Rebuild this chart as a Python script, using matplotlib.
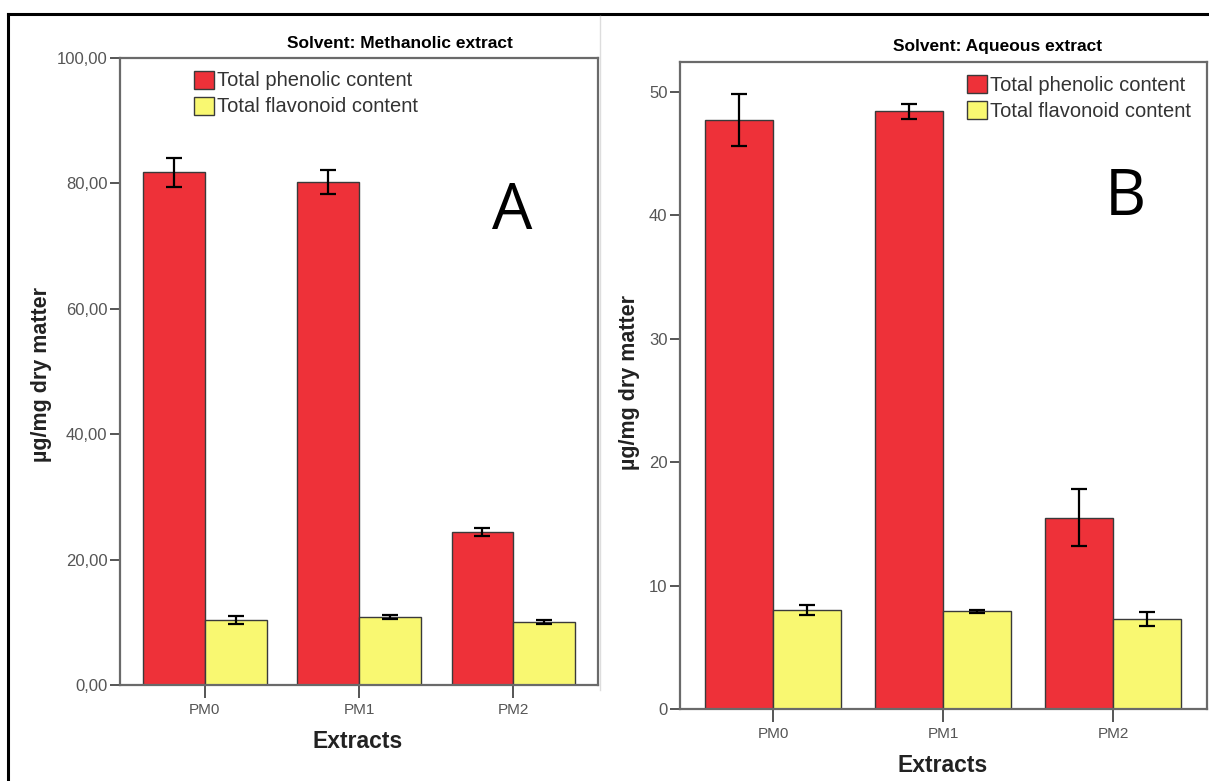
import matplotlib
matplotlib.use("Agg")
import matplotlib.pyplot as plt
import numpy as np
from matplotlib.lines import Line2D

plt.rcParams["font.family"] = ["Liberation Sans", "DejaVu Sans"]

categories = ["PM0", "PM1", "PM2"]
series_names = ["Total phenolic content", "Total flavonoid content"]

# Methanolic extract (panel A)
meth_phenolic = [81.8, 80.2, 24.4]
meth_phenolic_err = [2.3, 1.9, 0.6]
meth_flavonoid = [10.4, 10.8, 10.1]
meth_flavonoid_err = [0.6, 0.3, 0.3]

# Aqueous extract (panel B)
aq_phenolic = [47.7, 48.4, 15.5]
aq_phenolic_err = [2.1, 0.6, 2.3]
aq_flavonoid = [8.0, 7.9, 7.3]
aq_flavonoid_err = [0.4, 0.15, 0.55]

red = "#ee3139"
yellow = "#f9f871"
edge = "#3a3a3a"
spine = "#6a6a6a"

fig = plt.figure(figsize=(12.09, 7.81), dpi=100)
axA = fig.add_axes([0.0993, 0.1229, 0.3953, 0.8028])
axB = fig.add_axes([0.5624, 0.0922, 0.4359, 0.8284])


def draw(ax, phen, phen_err, flav, flav_err, ymax, yticks, ylabels):
    x = np.arange(len(categories))
    w = 0.40
    ax.bar(x - w / 2, phen, w, color=red, edgecolor=edge, linewidth=1.0,
           label=series_names[0], zorder=2)
    ax.bar(x + w / 2, flav, w, color=yellow, edgecolor=edge, linewidth=1.0,
           label=series_names[1], zorder=2)
    ax.errorbar(x - w / 2, phen, yerr=phen_err, fmt="none", ecolor="black",
                elinewidth=1.6, capsize=6, capthick=1.6, zorder=3)
    ax.errorbar(x + w / 2, flav, yerr=flav_err, fmt="none", ecolor="black",
                elinewidth=1.6, capsize=6, capthick=1.6, zorder=3)
    ax.set_xlim(-0.55, 2.55)
    ax.set_ylim(0, ymax)
    ax.set_xticks(x)
    ax.set_xticklabels(categories, fontsize=11)
    ax.set_yticks(yticks)
    ax.set_yticklabels(ylabels, fontsize=12)
    for s in ax.spines.values():
        s.set_color(spine)
        s.set_linewidth(1.6)
    ax.tick_params(axis="both", colors="#555555", width=1.4,
                   length=7, direction="out", pad=2)
    ax.tick_params(axis="x", length=9, pad=4)


draw(axA, meth_phenolic, meth_phenolic_err, meth_flavonoid, meth_flavonoid_err,
     100, [0, 20, 40, 60, 80, 100],
     ["0,00", "20,00", "40,00", "60,00", "80,00", "100,00"])
draw(axB, aq_phenolic, aq_phenolic_err, aq_flavonoid, aq_flavonoid_err,
     52.4, [0, 10, 20, 30, 40, 50], ["0", "10", "20", "30", "40", "50"])

leg_kw = dict(frameon=False, fontsize=14.5, handlelength=1.0, handleheight=1.0,
              handletextpad=0.15, labelspacing=0.3, borderpad=0,
              borderaxespad=0)
legA = axA.legend(loc="upper left", bbox_to_anchor=(0.155, 0.98), **leg_kw)
legB = axB.legend(loc="upper right", bbox_to_anchor=(0.97, 0.98), **leg_kw)
for leg in (legA, legB):
    for t in leg.get_texts():
        t.set_color("#333333")
    for p in leg.get_patches():
        p.set_edgecolor(edge)

axA.text(0.82, 0.755, "A", transform=axA.transAxes, fontsize=46,
         family=["Open Sans", "DejaVu Sans"], ha="center", va="center")
axB.text(0.845, 0.79, "B", transform=axB.transAxes, fontsize=46,
         family=["Open Sans", "DejaVu Sans"], ha="center", va="center")

# titles and axis labels
fig.text(400 / 1209, 1 - 44 / 781, "Solvent: Methanolic extract",
         fontsize=12.5, fontweight="bold", ha="center", va="center")
fig.text(998 / 1209, 1 - 47 / 781, "Solvent: Aqueous extract",
         fontsize=12.5, fontweight="bold", ha="center", va="center")
fig.text(42 / 1209, 1 - 375 / 781, "µg/mg dry matter", rotation=90,
         fontsize=15.5, fontweight="bold", ha="center", va="center",
         color="#222222")
fig.text(630 / 1209, 1 - 382 / 781, "µg/mg dry matter", rotation=90,
         fontsize=15.5, fontweight="bold", ha="center", va="center",
         color="#222222")
fig.text(358 / 1209, 1 - 742 / 781, "Extracts", fontsize=16.5,
         fontweight="bold", ha="center", va="center", color="#222222")
fig.text(943 / 1209, 1 - 765 / 781, "Extracts", fontsize=16.5,
         fontweight="bold", ha="center", va="center", color="#222222")

# outer frame of the figure image
fig.add_artist(Line2D([8 / 1209, 1], [1 - 14 / 781] * 2, color="black",
                      linewidth=2.2))
fig.add_artist(Line2D([8 / 1209] * 2, [0, 1 - 14 / 781], color="black",
                      linewidth=2.2))
fig.add_artist(Line2D([600 / 1209] * 2, [1 - 690 / 781, 1 - 16 / 781],
                      color="#dddddd", linewidth=1.0))

fig.savefig("out.png", dpi=100)
